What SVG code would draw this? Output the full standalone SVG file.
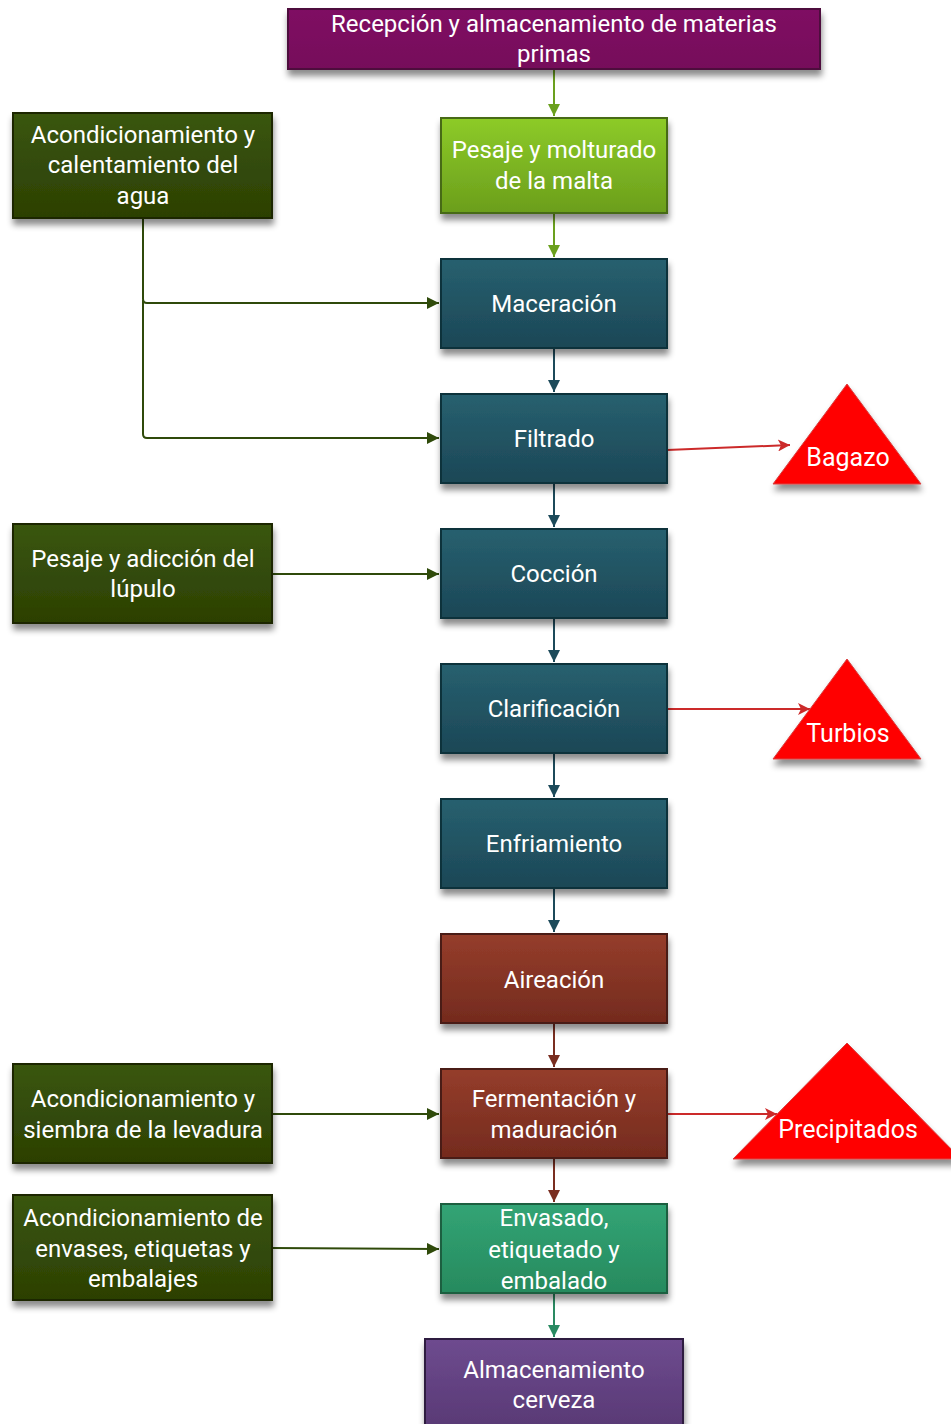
<svg xmlns="http://www.w3.org/2000/svg" width="951" height="1424" viewBox="0 0 951 1424">
  <defs>
    <linearGradient id="gPurple" x1="0" y1="0" x2="0" y2="1"><stop offset="0" stop-color="#7f0c63"/><stop offset="1" stop-color="#760a5a"/></linearGradient>
    <linearGradient id="gLime" x1="0" y1="0" x2="0" y2="1"><stop offset="0" stop-color="#8dcb28"/><stop offset="1" stop-color="#6b9e1c"/></linearGradient>
    <linearGradient id="gTeal" x1="0" y1="0" x2="0" y2="1"><stop offset="0" stop-color="#27606f"/><stop offset="1" stop-color="#1c4756"/></linearGradient>
    <linearGradient id="gBrown" x1="0" y1="0" x2="0" y2="1"><stop offset="0" stop-color="#953d2b"/><stop offset="1" stop-color="#742b1e"/></linearGradient>
    <linearGradient id="gDark" x1="0" y1="0" x2="0" y2="1"><stop offset="0" stop-color="#3a560f"/><stop offset="1" stop-color="#2c4003"/></linearGradient>
    <linearGradient id="gJade" x1="0" y1="0" x2="0" y2="1"><stop offset="0" stop-color="#32a475"/><stop offset="1" stop-color="#278a5e"/></linearGradient>
    <linearGradient id="gViolet" x1="0" y1="0" x2="0" y2="1"><stop offset="0" stop-color="#6e4b8f"/><stop offset="1" stop-color="#573873"/></linearGradient>
    <filter id="shadow" x="-10%" y="-10%" width="125%" height="140%">
      <feDropShadow dx="1" dy="6" stdDeviation="3" flood-color="#000" flood-opacity="0.45"/>
    </filter>
    <marker id="aLime" viewBox="0 0 10 10" refX="10" refY="5" markerWidth="6.5" markerHeight="6" orient="auto"><path d="M0,0 L10,5 L0,10 z" fill="#6ba01e"/></marker>
    <marker id="aTeal" viewBox="0 0 10 10" refX="10" refY="5" markerWidth="6.5" markerHeight="6" orient="auto"><path d="M0,0 L10,5 L0,10 z" fill="#1c4a5a"/></marker>
    <marker id="aBrown" viewBox="0 0 10 10" refX="10" refY="5" markerWidth="6.5" markerHeight="6" orient="auto"><path d="M0,0 L10,5 L0,10 z" fill="#7a2e20"/></marker>
    <marker id="aDark" viewBox="0 0 10 10" refX="10" refY="5" markerWidth="6.5" markerHeight="6" orient="auto"><path d="M0,0 L10,5 L0,10 z" fill="#2f4a0a"/></marker>
    <marker id="aJade" viewBox="0 0 10 10" refX="10" refY="5" markerWidth="6.5" markerHeight="6" orient="auto"><path d="M0,0 L10,5 L0,10 z" fill="#2a8a62"/></marker>
    <marker id="aRed" viewBox="0 0 10 10" refX="10" refY="5" markerWidth="7" markerHeight="6" orient="auto"><path d="M0,0 L10,5 L0,10 L2.5,5 z" fill="#cc2a2a"/></marker>
  </defs>
  <style>
    text { font-family: Roboto, "Liberation Sans", sans-serif; font-size: 24px; fill: #ffffff; text-anchor: middle; }
    .box { stroke-width: 2; filter: url(#shadow); }
    .tri { fill: #ff0000; stroke: #d84040; stroke-width: 1; filter: url(#shadow); }
    .ln { fill: none; stroke-width: 2; }
  </style>

  <!-- connectors -->
  <g id="connectors">
    <path class="ln" d="M554,69 V116" stroke="#6ba01e" marker-end="url(#aLime)"/>
    <path class="ln" d="M554,213 V257" stroke="#6ba01e" marker-end="url(#aLime)"/>
    <path class="ln" d="M554,348 V392" stroke="#1c4a5a" marker-end="url(#aTeal)"/>
    <path class="ln" d="M554,483 V527" stroke="#1c4a5a" marker-end="url(#aTeal)"/>
    <path class="ln" d="M554,618 V662" stroke="#1c4a5a" marker-end="url(#aTeal)"/>
    <path class="ln" d="M554,753 V797" stroke="#1c4a5a" marker-end="url(#aTeal)"/>
    <path class="ln" d="M554,888 V932" stroke="#1c4a5a" marker-end="url(#aTeal)"/>
    <path class="ln" d="M554,1023 V1067" stroke="#7a2e20" marker-end="url(#aBrown)"/>
    <path class="ln" d="M554,1158 V1202" stroke="#7a2e20" marker-end="url(#aBrown)"/>
    <path class="ln" d="M554,1293 V1337" stroke="#2a8a62" marker-end="url(#aJade)"/>
    <path class="ln" d="M143,218 V299 Q143,303 147,303 H439" stroke="#2f4a0a" marker-end="url(#aDark)"/>
    <path class="ln" d="M143,300 V434 Q143,438 147,438 H439" stroke="#2f4a0a" marker-end="url(#aDark)"/>
    <path class="ln" d="M272,574 H439" stroke="#2f4a0a" marker-end="url(#aDark)"/>
    <path class="ln" d="M272,1114 H439" stroke="#2f4a0a" marker-end="url(#aDark)"/>
    <path class="ln" d="M272,1248 L439,1249" stroke="#2f4a0a" marker-end="url(#aDark)"/>
    <path class="ln" d="M667,450 L790,445" stroke="#cc2a2a" marker-end="url(#aRed)"/>
    <path class="ln" d="M667,709 H810" stroke="#cc2a2a" marker-end="url(#aRed)"/>
    <path class="ln" d="M667,1114 H777" stroke="#cc2a2a" marker-end="url(#aRed)"/>
  </g>

  <g id="recepcion">
    <rect class="box" x="288" y="9" width="532" height="60" fill="url(#gPurple)" stroke="#4e0a3c"/>
    <text x="554" y="32">Recepción y almacenamiento de materias</text>
    <text x="554" y="62">primas</text>
  </g>
  <g id="pesaje-malta">
    <rect class="box" x="441" y="118" width="226" height="95" fill="url(#gLime)" stroke="#466b12"/>
    <text x="554" y="158">Pesaje y molturado</text>
    <text x="554" y="189">de la malta</text>
  </g>
  <g id="maceracion">
    <rect class="box" x="441" y="259" width="226" height="89" fill="url(#gTeal)" stroke="#10303a"/>
    <text x="554" y="312">Maceración</text>
  </g>
  <g id="filtrado">
    <rect class="box" x="441" y="394" width="226" height="89" fill="url(#gTeal)" stroke="#10303a"/>
    <text x="554" y="447">Filtrado</text>
  </g>
  <g id="coccion">
    <rect class="box" x="441" y="529" width="226" height="89" fill="url(#gTeal)" stroke="#10303a"/>
    <text x="554" y="582">Cocción</text>
  </g>
  <g id="clarificacion">
    <rect class="box" x="441" y="664" width="226" height="89" fill="url(#gTeal)" stroke="#10303a"/>
    <text x="554" y="717">Clarificación</text>
  </g>
  <g id="enfriamiento">
    <rect class="box" x="441" y="799" width="226" height="89" fill="url(#gTeal)" stroke="#10303a"/>
    <text x="554" y="852">Enfriamiento</text>
  </g>
  <g id="aireacion">
    <rect class="box" x="441" y="934" width="226" height="89" fill="url(#gBrown)" stroke="#4a1a12"/>
    <text x="554" y="988">Aireación</text>
  </g>
  <g id="fermentacion">
    <rect class="box" x="441" y="1069" width="226" height="89" fill="url(#gBrown)" stroke="#4a1a12"/>
    <text x="554" y="1107">Fermentación y</text>
    <text x="554" y="1138">maduración</text>
  </g>
  <g id="envasado">
    <rect class="box" x="441" y="1204" width="226" height="89" fill="url(#gJade)" stroke="#1b5e40"/>
    <text x="554" y="1226">Envasado,</text>
    <text x="554" y="1258">etiquetado y</text>
    <text x="554" y="1289">embalado</text>
  </g>
  <g id="almacenamiento">
    <rect class="box" x="425" y="1339" width="258" height="95" fill="url(#gViolet)" stroke="#2e1f40"/>
    <text x="554" y="1378">Almacenamiento</text>
    <text x="554" y="1408">cerveza</text>
  </g>

  <g id="agua">
    <rect class="box" x="13" y="113" width="259" height="105" fill="url(#gDark)" stroke="#1a2603"/>
    <text x="143" y="143">Acondicionamiento y</text>
    <text x="143" y="173">calentamiento del</text>
    <text x="143" y="204">agua</text>
  </g>
  <g id="lupulo">
    <rect class="box" x="13" y="524" width="259" height="99" fill="url(#gDark)" stroke="#1a2603"/>
    <text x="143" y="567">Pesaje y adicción del</text>
    <text x="143" y="597">lúpulo</text>
  </g>
  <g id="levadura">
    <rect class="box" x="13" y="1064" width="259" height="99" fill="url(#gDark)" stroke="#1a2603"/>
    <text x="143" y="1107">Acondicionamiento y</text>
    <text x="143" y="1138">siembra de la levadura</text>
  </g>
  <g id="envases">
    <rect class="box" x="13" y="1195" width="259" height="105" fill="url(#gDark)" stroke="#1a2603"/>
    <text x="143" y="1226">Acondicionamiento de</text>
    <text x="143" y="1257">envases, etiquetas y</text>
    <text x="143" y="1287">embalajes</text>
  </g>

  <g id="bagazo">
    <polygon class="tri" points="847,384 921,484 773,484"/>
    <text x="848" y="466" style="font-size:25px">Bagazo</text>
  </g>
  <g id="turbios">
    <polygon class="tri" points="847,659 921,759 773,759"/>
    <text x="848" y="742" style="font-size:25px">Turbios</text>
  </g>
  <g id="precipitados">
    <polygon class="tri" points="847,1043 961,1159 733,1159"/>
    <text x="848" y="1138" style="font-size:25px">Precipitados</text>
  </g>
</svg>
